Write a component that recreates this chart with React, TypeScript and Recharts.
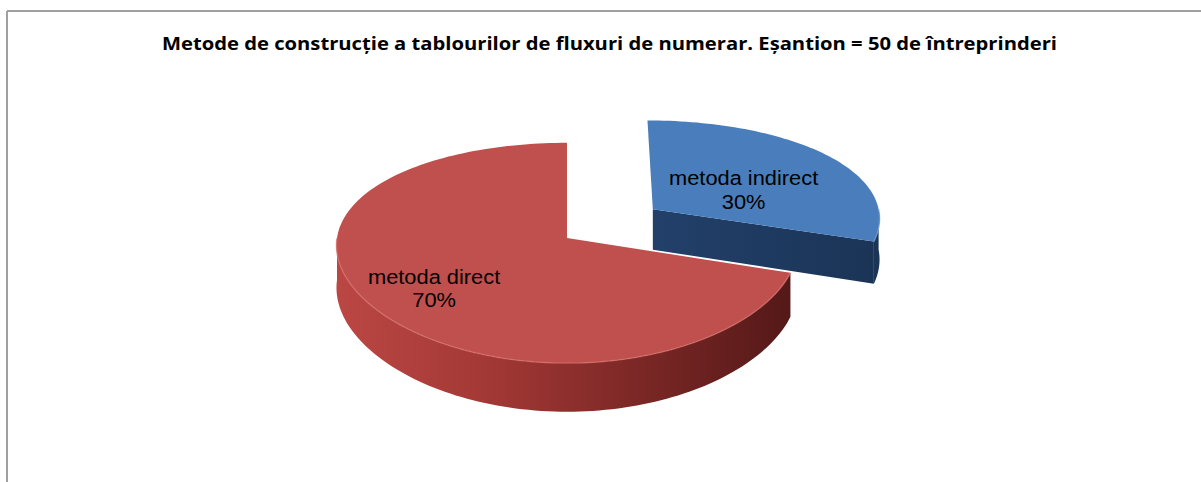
import React from 'react';
import { PieChart, Pie } from 'recharts';

const categories = ['metoda indirect', 'metoda direct'];
const values = [30, 70];
const titleText =
  'Metode de construcție a tablourilor de fluxuri de numerar. Eșantion = 50 de întreprinderi';

const data = categories.map((name, i) => ({ name, value: values[i] }));

const W = 1201;
const H = 482;
const TILT = 0.47; // vertical squash of the disk
const PERSP = 0.136; // perspective strength (relative to radius)
const PERSP_X = 0.5; // share of perspective applied horizontally
const DEPTH = 42;

type SliceStyle = {
  top: string;
  side: string[];
  face: string[];
  rim: string;
  explode: number;
  labelR: number;
  labelDx: number;
  labelDy: number;
};

const styles: Record<string, SliceStyle> = {
  'metoda indirect': {
    top: '#4a7dbb',
    side: ['#243f66', '#1b3556'],
    face: ['#22406a', '#1b3456'],
    rim: '#6f9bd0',
    explode: 0.47,
    labelR: 0.47,
    labelDx: 8,
    labelDy: 6,
  },
  'metoda direct': {
    top: '#c0504d',
    side: ['#bb4744', '#a23835', '#7a2725', '#521817'],
    face: ['#8a2c2a', '#6e2321'],
    rim: '#d8726e',
    explode: 0,
    labelR: 0.72,
    labelDx: 5,
    labelDy: 0,
  },
};

const RAD = Math.PI / 180;

function makeProjector(cx: number, cy: number, R: number) {
  const p = PERSP / R;
  return (X: number, Z: number, down = 0) => {
    const s = 1 / (1 + p * Z);
    const sx = 1 / (1 + p * PERSP_X * Z);
    return [cx + sx * X, cy - s * Z * TILT + s * down];
  };
}

const f = (q: number[]) => `${q[0].toFixed(2)},${q[1].toFixed(2)}`;

function arcPts(
  proj: (X: number, Z: number, d?: number) => number[],
  ex: number,
  ez: number,
  R: number,
  a: number,
  b: number,
  down = 0
) {
  const n = Math.max(2, Math.ceil(Math.abs(b - a) / 1.5));
  const pts: number[][] = [];
  for (let i = 0; i <= n; i++) {
    const t = a + ((b - a) * i) / n;
    pts.push(proj(ex + R * Math.cos(t * RAD), ez + R * Math.sin(t * RAD), down));
  }
  return pts;
}

function Sector3D(props: any) {
  const { cx, cy, outerRadius, startAngle, endAngle, midAngle, index, name } = props;
  const nm = name ?? props.payload?.name;
  const st = styles[nm] ?? styles['metoda direct'];
  const R = outerRadius;
  const proj = makeProjector(cx, cy, R);
  const ex = st.explode * R * Math.cos(midAngle * RAD);
  const ez = st.explode * R * Math.sin(midAngle * RAD);
  const D = DEPTH;

  const lo = Math.min(startAngle, endAngle);
  const hi = Math.max(startAngle, endAngle);
  const halves = [
    [-540, -360],
    [-180, 0],
    [180, 360],
  ];
  const sides: string[] = [];
  const rims: string[] = [];
  halves.forEach(([a0, b0]) => {
    const a = Math.max(lo, a0);
    const b = Math.min(hi, b0);
    if (b - a > 0.01) {
      const topArc = arcPts(proj, ex, ez, R, b, a, 0);
      const botArc = arcPts(proj, ex, ez, R, a, b, D);
      sides.push('M' + topArc.map(f).join(' L') + ' L' + botArc.map(f).join(' L') + ' Z');
      rims.push('M' + topArc.map(f).join(' L'));
    }
  });

  const apex = proj(ex, ez, 0);
  const apexB = proj(ex, ez, D);
  const edge = (ang: number, d: number) =>
    proj(ex + R * Math.cos(ang * RAD), ez + R * Math.sin(ang * RAD), d);

  const faces: string[] = [];
  if (Math.cos(startAngle * RAD) < -0.01) {
    faces.push(`M${f(apex)} L${f(edge(startAngle, 0))} L${f(edge(startAngle, D))} L${f(apexB)} Z`);
  }
  if (Math.cos(endAngle * RAD) > 0.01) {
    faces.push(`M${f(apex)} L${f(edge(endAngle, 0))} L${f(edge(endAngle, D))} L${f(apexB)} Z`);
  }

  const topArc = arcPts(proj, ex, ez, R, startAngle, endAngle, 0);
  const topPath = `M${f(apex)} L` + topArc.map(f).join(' L') + ' Z';

  const sideId = `side-grad-${index}`;
  const faceId = `face-grad-${index}`;
  const left = proj(ex - R, ez)[0];
  const right = proj(ex + R, ez)[0];
  return (
    <g>
      <defs>
        <linearGradient id={sideId} gradientUnits="userSpaceOnUse" x1={left} y1={0} x2={right} y2={0}>
          {st.side.map((c, i) => (
            <stop key={i} offset={i / (st.side.length - 1)} stopColor={c} />
          ))}
        </linearGradient>
        <linearGradient id={faceId} gradientUnits="userSpaceOnUse" x1={apex[0]} y1={0} x2={right} y2={0}>
          {st.face.map((c, i) => (
            <stop key={i} offset={i / (st.face.length - 1)} stopColor={c} />
          ))}
        </linearGradient>
      </defs>
      {faces.map((d, i) => (
        <path key={'f' + i} d={d} fill={`url(#${faceId})`} stroke="none" />
      ))}
      {sides.map((d, i) => (
        <path key={'s' + i} d={d} fill={`url(#${sideId})`} stroke="none" />
      ))}
      <path d={topPath} fill={st.top} stroke="none" />
      {rims.map((d, i) => (
        <path key={'r' + i} d={d} fill="none" stroke={st.rim} strokeWidth={1.5} strokeOpacity={0.6} />
      ))}
    </g>
  );
}

function renderLabel(props: any) {
  const { cx, cy, outerRadius, midAngle, name, percent } = props;
  const st = styles[name] ?? styles['metoda direct'];
  const R = outerRadius;
  const proj = makeProjector(cx, cy, R);
  const ex = st.explode * R * Math.cos(midAngle * RAD);
  const ez = st.explode * R * Math.sin(midAngle * RAD);
  const r = R * st.labelR;
  const [x0, y0] = proj(ex + r * Math.cos(midAngle * RAD), ez + r * Math.sin(midAngle * RAD));
  const x = x0 + st.labelDx;
  const y = y0 + st.labelDy;
  return (
    <g transform={`translate(${x.toFixed(1)},${y.toFixed(1)}) scale(1.12,1)`}>
      <text
        x={0}
        y={-3}
        textAnchor="middle"
        fontFamily="'Liberation Sans', Arial, sans-serif"
        fontSize={19.5}
        fill="#000"
      >
        {name}
      </text>
      <text
        x={0}
        y={21}
        textAnchor="middle"
        fontFamily="'Liberation Sans', Arial, sans-serif"
        fontSize={19.5}
        fill="#000"
      >
        {`${Math.round(percent * 100)}%`}
      </text>
    </g>
  );
}

export default function App() {
  return (
    <div style={{ position: 'absolute', left: 0, top: 0, width: W, height: H, background: '#fff' }}>
      <div style={{ position: 'absolute', left: 0, top: 0 }}>
        <PieChart width={W} height={H} margin={{ top: 0, right: 0, bottom: 0, left: 0 }}>
          <Pie
            data={data}
            dataKey="value"
            nameKey="name"
            cx={567}
            cy={238}
            outerRadius={230}
            startAngle={90}
            endAngle={-270}
            isAnimationActive={false}
            shape={Sector3D}
            label={renderLabel}
            labelLine={false}
            stroke="none"
          />
        </PieChart>
      </div>
      <svg
        width={W}
        height={H}
        style={{ position: 'absolute', left: 0, top: 0, pointerEvents: 'none' }}
      >
        <line x1={7} y1={11} x2={W} y2={11} stroke="#a0a0a0" strokeWidth={2} />
        <line x1={7} y1={11} x2={7} y2={H} stroke="#a0a0a0" strokeWidth={2} />
        <text
          x={609.5}
          y={50}
          textAnchor="middle"
          fontFamily="'Open Sans', 'Liberation Sans', Arial, sans-serif"
          fontWeight="bold"
          fontSize={18.5}
          textLength={895}
          lengthAdjust="spacingAndGlyphs"
          fill="#000"
        >
          {titleText}
        </text>
      </svg>
    </div>
  );
}
